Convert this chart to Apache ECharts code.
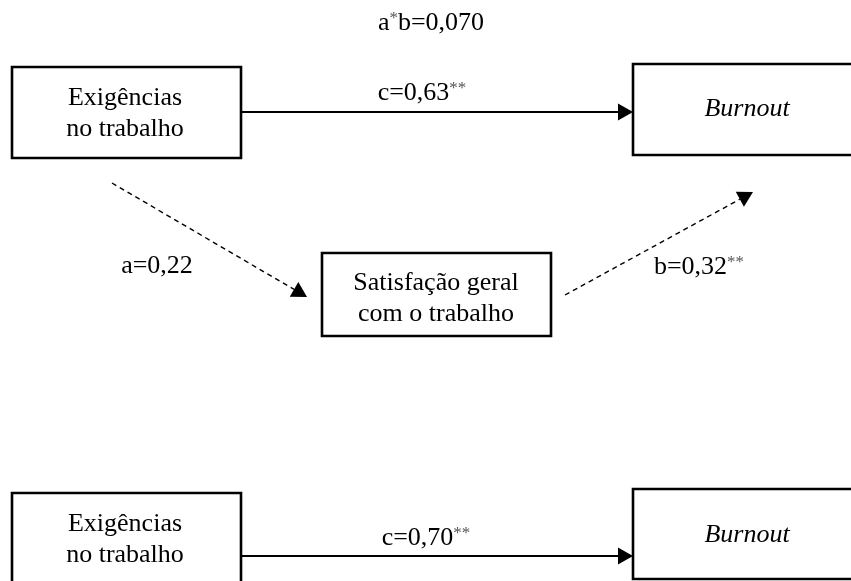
<!DOCTYPE html>
<html><head><meta charset="utf-8">
<script src="https://cdn.jsdelivr.net/npm/echarts@6/dist/echarts.min.js"></script>
<style>html,body{margin:0;padding:0;background:#fff}#c{width:851px;height:581px}</style>
</head><body><div id="c"></div>
<script>
// ---- data ----
const nodeNames = ['Exigências\nno trabalho', 'Burnout', 'Satisfação geral\ncom o trabalho', 'Exigências\nno trabalho', 'Burnout'];
const nodeItalic = [false, true, false, false, true];
const pathNames = ['c', 'a', 'b', 'c'];
const pathValues = ['0,63', '0,22', '0,32', '0,70'];
const pathSig = ['**', '', '**', '**'];
const pathDashed = [false, true, true, false];
const indirectNames = ['a', 'b'];
const indirectValue = '0,070';
const indirectSig = '*';

// ---- layout (diagram coordinates) ----
const nodeBoxes = [[12,67,241,158],[633,64,862,155],[322,253,551,336],[12,493,241,586],[633,489,862,579]];
const nodeTextCenters = [[125,113.5],[747,109],[436,299],[125,539.5],[747,535]];
const pathFrom = [[241,112],[112,183],[565,295],[241,556]];
const pathTo = [[633,112],[307,297],[753,192],[633,556]];
const pathLabelPos = [[422,93],[157,266],[699,267],[426,538]];
const indirectLabelPos = [431,23];

const FONT = "'Liberation Serif','Times New Roman',serif";
const rich = {
  t: {fontFamily: FONT, fontSize: 26, color: '#000', lineHeight: 26},
  s: {fontFamily: FONT, fontSize: 17, color: '#555', verticalAlign: 'top', lineHeight: 17}
};

const labelData = pathNames.map((n, i) => ({
  value: pathLabelPos[i],
  txt: '{t|' + n + '=' + pathValues[i] + '}' + (pathSig[i] ? '{s|' + pathSig[i] + '}' : '')
}));
labelData.push({
  value: indirectLabelPos,
  txt: '{t|' + indirectNames[0] + '}{s|' + indirectSig + '}{t|' + indirectNames[1] + '=' + indirectValue + '}'
});

const chart = echarts.init(document.getElementById('c'), null, {renderer: 'canvas'});
chart.setOption({
  animation: false,
  backgroundColor: '#fff',
  grid: {left: 0, right: 0, top: 0, bottom: 0},
  xAxis: {type: 'value', min: 0, max: 851, show: false},
  yAxis: {type: 'value', min: 0, max: 581, inverse: true, show: false},
  series: [
    {
      type: 'custom', clip: false,
      data: pathNames.map((n, i) => i),
      renderItem: function (params, api) {
        const i = params.dataIndex;
        const a = api.coord(pathFrom[i]), b = api.coord(pathTo[i]);
        const dx = b[0] - a[0], dy = b[1] - a[1];
        const len = Math.sqrt(dx * dx + dy * dy);
        const ux = dx / len, uy = dy / len, nx = -uy, ny = ux;
        const L = 15, W = 8.5;
        const bx = b[0] - ux * L, by = b[1] - uy * L;
        return {type: 'group', children: [
          {type: 'line', shape: {x1: a[0], y1: a[1], x2: bx, y2: by},
           style: {stroke: '#000', lineWidth: pathDashed[i] ? 1.4 : 2, lineDash: pathDashed[i] ? [5, 4] : null}},
          {type: 'polygon', shape: {points: [[b[0], b[1]], [bx + nx * W, by + ny * W], [bx - nx * W, by - ny * W]]},
           style: {fill: '#000'}}
        ]};
      }
    },
    {
      type: 'custom', clip: false,
      data: nodeNames.map((n, i) => i),
      renderItem: function (params, api) {
        const i = params.dataIndex;
        const bx = nodeBoxes[i];
        const p1 = api.coord([bx[0], bx[1]]), p2 = api.coord([bx[2], bx[3]]);
        const tc = api.coord(nodeTextCenters[i]);
        return {type: 'group', children: [
          {type: 'rect', shape: {x: p1[0], y: p1[1], width: p2[0] - p1[0], height: p2[1] - p1[1]},
           style: {fill: '#fff', stroke: '#000', lineWidth: 2.6}},
          {type: 'text', x: tc[0], y: tc[1],
           style: {text: nodeNames[i], fontFamily: FONT, fontSize: 26, fontStyle: nodeItalic[i] ? 'italic' : 'normal',
                   fill: '#000', align: 'center', verticalAlign: 'middle', lineHeight: 31}}
        ]};
      }
    },
    {
      type: 'scatter', symbolSize: 0, silent: true,
      itemStyle: {opacity: 1},
      data: labelData.map(d => ({value: d.value})),
      label: {
        show: true, position: 'inside', align: 'center', verticalAlign: 'middle', color: '#000', opacity: 1,
        formatter: function (p) { return labelData[p.dataIndex].txt; },
        rich: rich
      }
    }
  ]
});
</script></body></html>
